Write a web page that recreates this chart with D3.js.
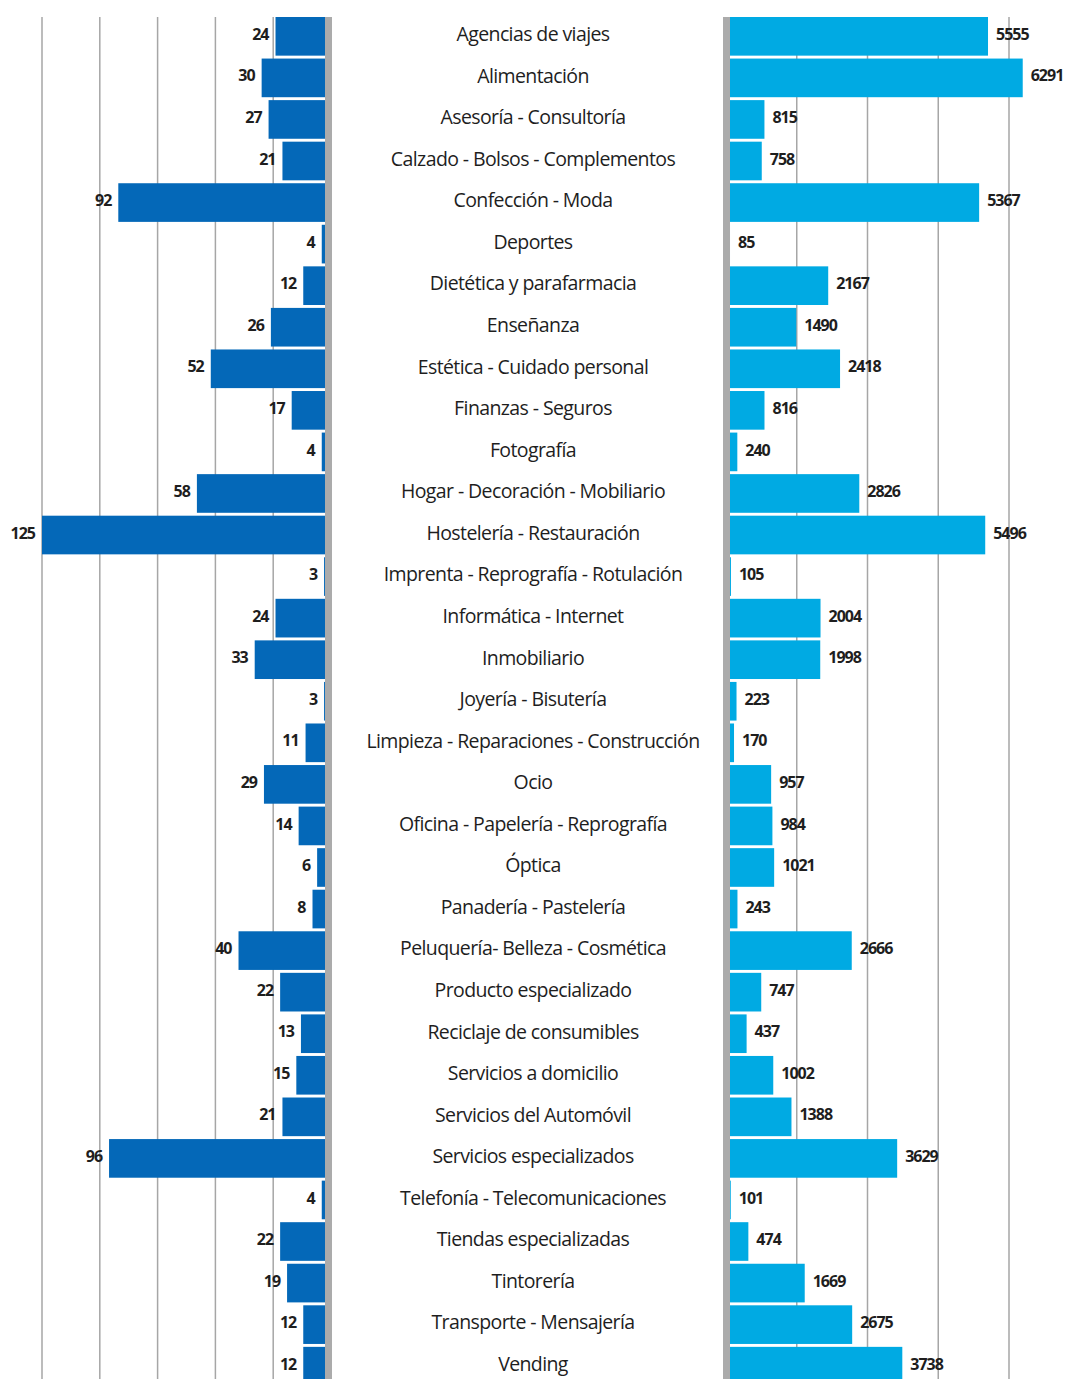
<!DOCTYPE html>
<html>
<head>
<meta charset="utf-8">
<script src="https://cdn.jsdelivr.net/npm/d3@7"></script>
<style>
  body { margin: 0; background: #fff; }
  text { font-family: "Open Sans", "Noto Sans", sans-serif; fill: #1e1e1e; }
</style>
</head>
<body>
<svg></svg>
<script>
const width = 1065;
const height = 1379;

const categories = [
    "Agencias de viajes", "Alimentación", "Asesoría - Consultoría",
    "Calzado - Bolsos - Complementos", "Confección - Moda", "Deportes",
    "Dietética y parafarmacia", "Enseñanza", "Estética - Cuidado personal",
    "Finanzas - Seguros", "Fotografía", "Hogar - Decoración - Mobiliario",
    "Hostelería - Restauración", "Imprenta - Reprografía - Rotulación",
    "Informática - Internet", "Inmobiliario", "Joyería - Bisutería",
    "Limpieza - Reparaciones - Construcción", "Ocio",
    "Oficina - Papelería - Reprografía", "Óptica", "Panadería - Pastelería",
    "Peluquería- Belleza - Cosmética", "Producto especializado",
    "Reciclaje de consumibles", "Servicios a domicilio",
    "Servicios del Automóvil", "Servicios especializados",
    "Telefonía - Telecomunicaciones", "Tiendas especializadas", "Tintorería",
    "Transporte - Mensajería", "Vending"
];
const leftValues = [24, 30, 27, 21, 92, 4, 12, 26, 52, 17, 4, 58, 125, 3, 24, 33, 3,
    11, 29, 14, 6, 8, 40, 22, 13, 15, 21, 96, 4, 22, 19, 12, 12];
const rightValues = [5555, 6291, 815, 758, 5367, 85, 2167, 1490, 2418, 816, 240, 2826,
    5496, 105, 2004, 1998, 223, 170, 957, 984, 1021, 243, 2666, 747, 437, 1002, 1388,
    3629, 101, 474, 1669, 2675, 3738];
const leftTicks = [25, 50, 75, 100, 125];
const rightTicks = [1500, 3000, 4500, 6000];

const marginTop = 17;
const rowStep = 41.47;
const leftZero = 331, rightZero = 726;

let svg = d3.select("svg")
    .attr("width", width)
    .attr("height", height);

let y = d3.scaleBand()
    .domain(categories)
    .range([marginTop, marginTop + rowStep * categories.length])
    .paddingInner(0.07)
    .paddingOuter(0);

let xLeft = d3.scaleLinear()
    .domain([0, 125])
    .range([leftZero, 42]);

let xRight = d3.scaleLinear()
    .domain([0, 6000])
    .range([rightZero, 1009]);

// gridlines
svg.append("g")
    .selectAll("line")
    .data(leftTicks)
    .join("line")
    .attr("x1", d => xLeft(d))
    .attr("x2", d => xLeft(d))
    .attr("y1", marginTop)
    .attr("y2", height)
    .attr("stroke", "#a6a6a6")
    .attr("stroke-width", 1.5);

svg.append("g")
    .selectAll("line")
    .data(rightTicks)
    .join("line")
    .attr("x1", d => xRight(d))
    .attr("x2", d => xRight(d))
    .attr("y1", marginTop)
    .attr("y2", height)
    .attr("stroke", "#a6a6a6")
    .attr("stroke-width", 1.5);

// left bars
svg.append("g")
    .selectAll("rect")
    .data(leftValues)
    .join("rect")
    .attr("x", d => xLeft(d))
    .attr("y", (d, i) => y(categories[i]))
    .attr("width", d => leftZero - xLeft(d))
    .attr("height", y.bandwidth())
    .attr("fill", "#0468b8");

// right bars
svg.append("g")
    .selectAll("rect")
    .data(rightValues)
    .join("rect")
    .attr("x", rightZero)
    .attr("y", (d, i) => y(categories[i]))
    .attr("width", d => xRight(d) - rightZero)
    .attr("height", y.bandwidth())
    .attr("fill", "#00aae3");

// gray axis bands
svg.append("rect")
    .attr("x", 325).attr("y", marginTop)
    .attr("width", 7).attr("height", height - marginTop)
    .attr("fill", "#ababab");
svg.append("rect")
    .attr("x", 723).attr("y", marginTop)
    .attr("width", 7).attr("height", height - marginTop)
    .attr("fill", "#ababab");

// value labels
svg.append("g")
    .selectAll("text")
    .data(leftValues)
    .join("text")
    .attr("x", d => Math.min(xLeft(d), 325) - 7)
    .attr("y", (d, i) => y(categories[i]) + y.bandwidth() / 2 - 2)
    .attr("dy", "0.35em")
    .style("text-anchor", "end")
    .style("font-size", "16px")
    .style("font-weight", "bold")
    .style("letter-spacing", "-1px")
    .text(d => d);

svg.append("g")
    .selectAll("text")
    .data(rightValues)
    .join("text")
    .attr("x", d => Math.max(xRight(d), 730) + 8)
    .attr("y", (d, i) => y(categories[i]) + y.bandwidth() / 2 - 2)
    .attr("dy", "0.35em")
    .style("text-anchor", "start")
    .style("font-size", "16px")
    .style("font-weight", "bold")
    .style("letter-spacing", "-1px")
    .text(d => d);

// category labels
svg.append("g")
    .selectAll("text")
    .data(categories)
    .join("text")
    .attr("x", 533)
    .attr("y", d => y(d) + y.bandwidth() / 2 - 2)
    .attr("dy", "0.35em")
    .style("text-anchor", "middle")
    .style("font-size", "19.5px")
    .style("font-weight", 500)
    .style("letter-spacing", "-0.6px")
    .text(d => d);
</script>
</body>
</html>
